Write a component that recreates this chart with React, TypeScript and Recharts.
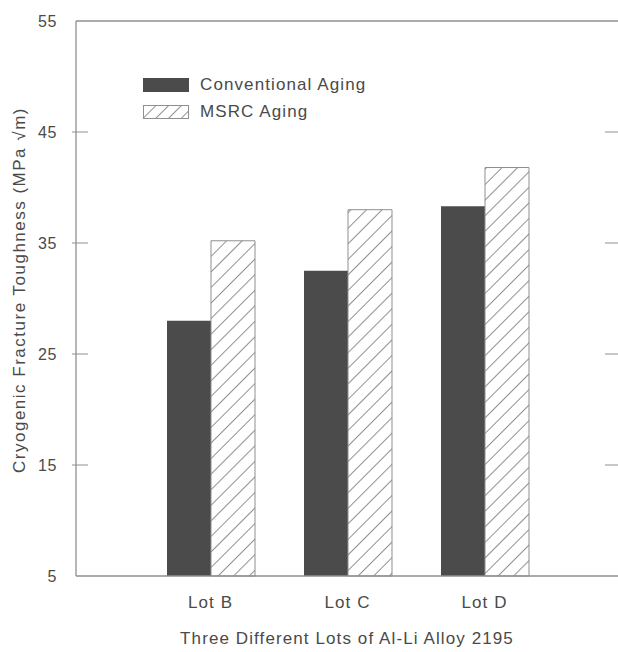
import { Bar, BarChart, ReferenceLine, XAxis, YAxis } from "recharts";

const lots = ["Lot B", "Lot C", "Lot D"];
const conventional = [28.0, 32.5, 38.3];
const msrc = [35.2, 38.0, 41.8];
const yTicks = [5, 15, 25, 35, 45, 55];

const data = lots.map((lot, i) => ({
  lot,
  conventional: conventional[i],
  msrc: msrc[i],
}));

const TEXT = "#4a4a4a";
const AXIS = "#8f8f8f";
const DARK = "#4b4b4b";
const FONT = "'Liberation Sans', Arial, sans-serif";

const PLOT_LEFT = 76;
const PLOT_RIGHT = 618;

function YTick(props: any) {
  const { y, payload } = props;
  const v = payload.value;
  const inner = v !== 5 && v !== 55;
  return (
    <g>
      {inner && (
        <>
          <line x1={PLOT_LEFT - 4} x2={PLOT_LEFT + 12} y1={y} y2={y} stroke={AXIS} strokeWidth={1} />
          <line x1={PLOT_RIGHT - 13} x2={PLOT_RIGHT} y1={y} y2={y} stroke={AXIS} strokeWidth={1} />
        </>
      )}
      <text
        x={57}
        y={y}
        dy="0.36em"
        textAnchor="end"
        fill={TEXT}
        fontSize={16}
        fontFamily={FONT}
        letterSpacing={0.6}
      >
        {v}
      </text>
    </g>
  );
}

function YLabel() {
  return (
    <text
      transform="translate(19,290) rotate(-90)"
      textAnchor="middle"
      dominantBaseline="central"
      fill={TEXT}
      fontSize={17}
      fontFamily={FONT}
      letterSpacing={1.5}
    >
      Cryogenic Fracture Toughness (MPa  √m)
    </text>
  );
}

function Swatch({ hatched }: { hatched: boolean }) {
  return (
    <svg width={46} height={14} style={{ display: "block" }}>
      <defs>
        <pattern id="hatchLegend" width={9} height={9} patternUnits="userSpaceOnUse" patternTransform="rotate(45)">
          <line x1={0} y1={0} x2={0} y2={9} stroke="#555" strokeWidth={1.3} />
        </pattern>
      </defs>
      {hatched ? (
        <rect x={0.5} y={0.5} width={45} height={13} fill="url(#hatchLegend)" stroke={AXIS} strokeWidth={1} />
      ) : (
        <rect x={0} y={0} width={46} height={14} fill={DARK} />
      )}
    </svg>
  );
}

function LegendBox() {
  const items = [
    { label: "Conventional Aging", hatched: false },
    { label: "MSRC Aging", hatched: true },
  ];
  return (
    <div style={{ position: "absolute", left: 143, top: 71, fontFamily: FONT }}>
      {items.map((it) => (
        <div key={it.label} style={{ display: "flex", alignItems: "center", height: 27 }}>
          <Swatch hatched={it.hatched} />
          <span style={{ marginLeft: 11, fontSize: 17, color: TEXT, letterSpacing: 1.1 }}>{it.label}</span>
        </div>
      ))}
    </div>
  );
}

export default function App() {
  return (
    <div style={{ position: "absolute", left: 0, top: 0, width: 618, height: 652, background: "#fff" }}>
      <BarChart
        width={618}
        height={652}
        data={data}
        margin={{ top: 21, right: 0, left: 0, bottom: 0 }}
        barGap={0}
        barSize={44}
      >
        <defs>
          <pattern id="hatch" width={11} height={11} patternUnits="userSpaceOnUse" patternTransform="rotate(45)">
            <rect width={11} height={11} fill="#fff" />
            <line x1={0} y1={0} x2={0} y2={11} stroke="#555" strokeWidth={1.3} />
          </pattern>
        </defs>
        <XAxis
          dataKey="lot"
          height={76}
          padding={{ left: 66, right: 65 }}
          axisLine={{ stroke: AXIS, strokeWidth: 1.3 }}
          tickLine={false}
          tickSize={0}
          tickMargin={20}
          tick={{ fill: TEXT, fontSize: 17, fontFamily: FONT, letterSpacing: 1.1 }}
          label={{
            value: "Three Different Lots of Al-Li Alloy 2195",
            position: "insideBottom",
            offset: 8,
            fill: TEXT,
            fontSize: 17,
            fontFamily: FONT,
            letterSpacing: 1.1,
          }}
        />
        <YAxis
          width={PLOT_LEFT}
          domain={[5, 55]}
          ticks={yTicks}
          interval={0}
          axisLine={{ stroke: AXIS, strokeWidth: 1.3 }}
          tickLine={false}
          tick={<YTick />}
          label={{ content: () => <YLabel /> }}
        />
        <ReferenceLine y={55} stroke={AXIS} strokeWidth={1.3} />
        <Bar dataKey="conventional" fill={DARK} isAnimationActive={false} />
        <Bar dataKey="msrc" fill="url(#hatch)" stroke={AXIS} strokeWidth={1} isAnimationActive={false} />
      </BarChart>
      <LegendBox />
    </div>
  );
}
